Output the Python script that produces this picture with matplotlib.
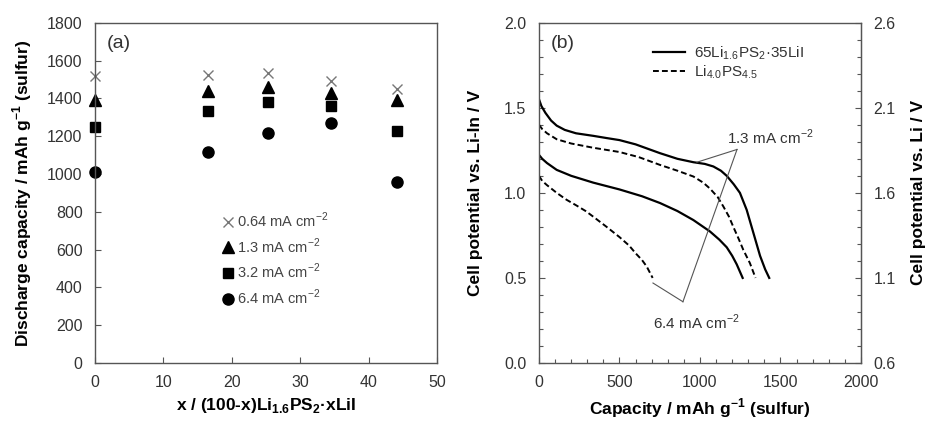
import matplotlib
matplotlib.use("Agg")
import matplotlib.pyplot as plt
from matplotlib.ticker import MultipleLocator, FixedLocator, FormatStrFormatter

plt.rcParams['font.family'] = ['Liberation Sans', 'DejaVu Sans']
plt.rcParams['mathtext.fontset'] = 'custom'
plt.rcParams['mathtext.rm'] = 'Liberation Sans'
plt.rcParams['mathtext.bf'] = 'Liberation Sans:bold'

# ---- panel (a) data ----
x_comp = [0, 16.5, 25.3, 34.5, 44.2]
cap_064 = [1518, 1523, 1532, 1492, 1450]
cap_13 = [1391, 1441, 1458, 1427, 1391]
cap_32 = [1250, 1333, 1379, 1361, 1228]
cap_64 = [1009, 1118, 1215, 1268, 960]
labels_a = ["0.64 mA cm$^{-2}$", "1.3 mA cm$^{-2}$", "3.2 mA cm$^{-2}$", "6.4 mA cm$^{-2}$"]

# ---- panel (b) data ----
solid13_c = [0, 15, 40, 75, 110, 160, 230, 337, 420, 500, 600, 752, 860, 959, 1030, 1083, 1130, 1166, 1210, 1248, 1290, 1330, 1373, 1405, 1430]
solid13_v = [1.55, 1.51, 1.47, 1.425, 1.395, 1.37, 1.35, 1.335, 1.322, 1.31, 1.285, 1.233, 1.20, 1.18, 1.17, 1.155, 1.13, 1.10, 1.05, 1.00, 0.90, 0.77, 0.63, 0.55, 0.50]
dash13_c = [0, 20, 50, 110, 200, 337, 500, 620, 752, 860, 959, 1020, 1062, 1110, 1145, 1180, 1207, 1240, 1269, 1310, 1345]
dash13_v = [1.40, 1.375, 1.35, 1.315, 1.29, 1.265, 1.24, 1.21, 1.164, 1.13, 1.096, 1.06, 1.025, 0.975, 0.92, 0.86, 0.80, 0.73, 0.665, 0.587, 0.50]
solid64_c = [0, 20, 50, 110, 200, 337, 500, 640, 752, 860, 959, 1062, 1120, 1166, 1200, 1228, 1265]
solid64_v = [1.223, 1.20, 1.175, 1.135, 1.10, 1.06, 1.02, 0.98, 0.94, 0.893, 0.84, 0.773, 0.725, 0.68, 0.63, 0.58, 0.50]
dash64_c = [0, 20, 50, 110, 170, 234, 290, 337, 420, 500, 560, 600, 640, 669, 706]
dash64_v = [1.10, 1.07, 1.045, 1.00, 0.96, 0.925, 0.893, 0.86, 0.80, 0.74, 0.69, 0.645, 0.605, 0.567, 0.50]
legend_b = ["65Li$_{1.6}$PS$_2$·35LiI", "Li$_{4.0}$PS$_{4.5}$"]
right_ticks = [0.6, 1.1, 1.6, 2.1, 2.6]

TXT = '#333333'
SP = '#555555'
TICK_FS = 11.5
LAB_FS = 12.5

fig = plt.figure(figsize=(9.28, 4.25), dpi=100)
axa = fig.add_axes([0.1024, 0.1459, 0.3685, 0.8007])
axb = fig.add_axes([0.5808, 0.1459, 0.347, 0.8007])

# ---------- (a) ----------
axa.plot(x_comp, cap_064, linestyle='none', marker='x', ms=7, mew=1.0, color='#777777', label=labels_a[0], clip_on=False)
axa.plot(x_comp, cap_13, linestyle='none', marker='^', ms=8, color='black', label=labels_a[1], clip_on=False)
axa.plot(x_comp, cap_32, linestyle='none', marker='s', ms=7, color='black', label=labels_a[2], clip_on=False)
axa.plot(x_comp, cap_64, linestyle='none', marker='o', ms=8, color='black', label=labels_a[3], clip_on=False)
axa.set_xlim(0, 50)
axa.set_ylim(0, 1800)
axa.xaxis.set_major_locator(MultipleLocator(10))
axa.yaxis.set_major_locator(MultipleLocator(200))
axa.tick_params(direction='in', length=4, width=0.8, color=SP, labelsize=TICK_FS, labelcolor=TXT)
axa.tick_params(axis='y', pad=9)
axa.tick_params(axis='x', pad=9)
axa.set_xlabel("x / (100-x)Li$_{\\mathbf{1.6}}$PS$_{\\mathbf{2}}$·xLiI", fontsize=LAB_FS, fontweight='bold', labelpad=4)
axa.set_ylabel("Discharge capacity / mAh g$^{\\mathbf{-1}}$ (sulfur)", fontsize=LAB_FS, fontweight='bold', labelpad=9)
axa.text(0.035, 0.94, "(a)", transform=axa.transAxes, fontsize=14, color=TXT, va='center')
leg = axa.legend(loc='upper left', bbox_to_anchor=(0.35, 0.47), frameon=False, fontsize=10.5,
                 handlelength=0.8, handletextpad=0.25, labelspacing=0.45, borderpad=0)
for t in leg.get_texts():
    t.set_color('#444444')

# ---------- (b) ----------
lw = 1.6
axb.plot(solid13_c, solid13_v, color='black', lw=lw, label=legend_b[0])
axb.plot(dash13_c, dash13_v, color='black', lw=1.4, linestyle=(0, (3, 1.6)), label=legend_b[1])
axb.plot(solid64_c, solid64_v, color='black', lw=lw)
axb.plot(dash64_c, dash64_v, color='black', lw=1.4, linestyle=(0, (3, 1.6)))
axb.set_xlim(0, 2000)
axb.set_ylim(0, 2.0)
axb.xaxis.set_major_locator(MultipleLocator(500))
axb.xaxis.set_minor_locator(MultipleLocator(100))
axb.yaxis.set_major_locator(MultipleLocator(0.5))
axb.yaxis.set_minor_locator(MultipleLocator(0.1))
axb.yaxis.set_major_formatter(FormatStrFormatter('%.1f'))
axb.tick_params(which='both', direction='in', color=SP, width=0.8, labelsize=TICK_FS, labelcolor=TXT, pad=9)
axb.tick_params(which='major', length=4)
axb.tick_params(which='minor', length=3)
axb.set_xlabel("Capacity / mAh g$^{\\mathbf{-1}}$ (sulfur)", fontsize=LAB_FS, fontweight='bold', labelpad=4)
axb.set_ylabel("Cell potential vs. Li-In / V", fontsize=LAB_FS, fontweight='bold', labelpad=15)
axb.text(0.035, 0.94, "(b)", transform=axb.transAxes, fontsize=14, color=TXT, va='center')

sec = axb.secondary_yaxis('right', functions=(lambda v: v + 0.6, lambda v: v - 0.6))
sec.yaxis.set_major_locator(FixedLocator(right_ticks))
sec.yaxis.set_minor_locator(FixedLocator([0.6 + 0.1 * i for i in range(21)]))
sec.yaxis.set_major_formatter(FormatStrFormatter('%.1f'))
sec.tick_params(which='both', direction='in', color=SP, width=0.8, labelsize=TICK_FS, labelcolor=TXT, pad=9)
sec.tick_params(which='major', length=4)
sec.tick_params(which='minor', length=3)
sec.set_ylabel("Cell potential vs. Li / V", fontsize=LAB_FS, fontweight='bold', labelpad=11)
sec.spines['right'].set_color(SP)

legb = axb.legend(loc='upper left', bbox_to_anchor=(0.33, 0.96), frameon=False, fontsize=11,
                  handlelength=2.1, handletextpad=0.6, labelspacing=0.1, borderpad=0)
for t in legb.get_texts():
    t.set_color('#333333')

# annotations
axb.plot([981, 1230], [1.18, 1.255], color='#555555', lw=0.8)
axb.plot([894, 1230], [0.36, 1.255], color='#555555', lw=0.8)
axb.plot([708, 894], [0.47, 0.36], color='#555555', lw=0.8)
axb.text(1167, 1.325, "1.3 mA cm$^{-2}$", fontsize=11, color=TXT, va='center', ha='left')
axb.text(708, 0.24, "6.4 mA cm$^{-2}$", fontsize=11, color=TXT, va='center', ha='left')

for ax in (axa, axb):
    for s in ax.spines.values():
        s.set_color(SP)
        s.set_linewidth(1.0)

fig.savefig("out.png", dpi=100)
